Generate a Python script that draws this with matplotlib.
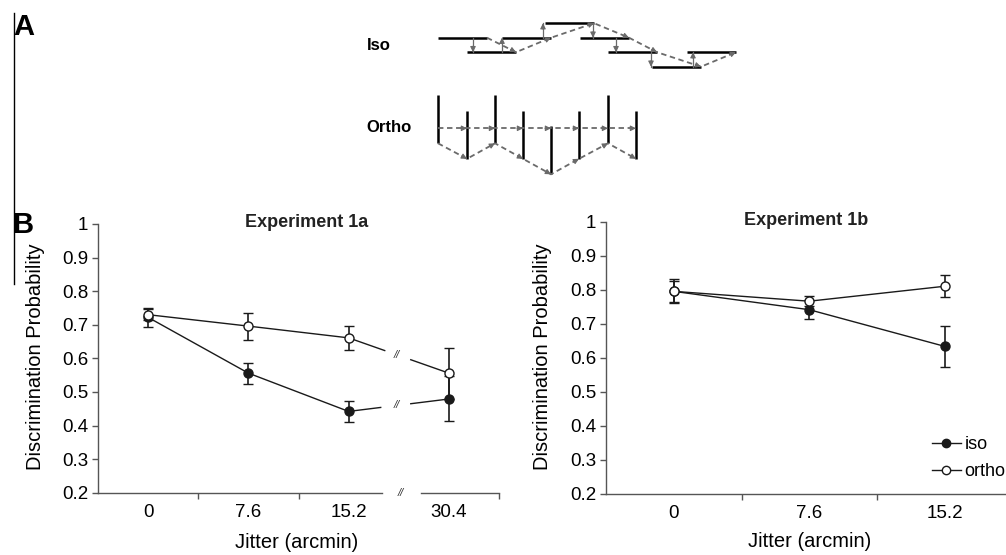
import numpy as np
import matplotlib
matplotlib.use("Agg")
import matplotlib.pyplot as plt
from matplotlib.lines import Line2D

plt.rcParams['font.family'] = ['Liberation Sans', 'DejaVu Sans']

# Experiment data (discrimination probability, mean and error)
jitter_1a = ['0', '7.6', '15.2', '30.4']
iso_1a = [0.722, 0.556, 0.442, 0.479]
iso_1a_err = [0.028, 0.031, 0.031, 0.067]
ortho_1a = [0.730, 0.696, 0.661, 0.556]
ortho_1a_err = [0.017, 0.040, 0.035, 0.076]

jitter_1b = ['0', '7.6', '15.2']
iso_1b = [0.795, 0.741, 0.633]
iso_1b_err = [0.035, 0.028, 0.060]
ortho_1b = [0.795, 0.766, 0.810]
ortho_1b_err = [0.030, 0.014, 0.032]

ytick_vals = [0.2, 0.3, 0.4, 0.5, 0.6, 0.7, 0.8, 0.9, 1.0]
ytick_labels = ['0.2', '0.3', '0.4', '0.5', '0.6', '0.7', '0.8', '0.9', '1']

# schematic in panel A (pixel-space diagram)
iso_seg_x = [438, 467, 502, 545, 580, 608, 652, 687]
iso_seg_level = [0, -1, 0, 1, 0, -1, -2, -1]
iso_step_x = [473, 502, 543, 593, 616, 651, 693]
ortho_seg_x = [438, 467, 495, 523, 551, 579, 608, 636]
ortho_seg_level = [0, -1, 0, -1, -2, -1, 0, -1]

W, H = 1006, 555
LINE = '#1a1a1a'
SPINE = '#555555'
GRAY = '#6a6a6a'


def px_rect(l, t, r, b):
    return [l / W, 1 - b / H, (r - l) / W, (b - t) / H]


fig = plt.figure(figsize=(W / 100, H / 100), dpi=100)

# ---- panel A schematic ----
sk = fig.add_axes([0, 0, 1, 1])
sk.set_xlim(0, W)
sk.set_ylim(H, 0)
sk.axis('off')


def arrow_head(x0, y0, x1, y1, color=GRAY):
    d = np.array([x1 - x0, y1 - y0], float)
    d = d / np.hypot(*d)
    sk.annotate('', xy=(x1, y1), xytext=(x1 - 6 * d[0], y1 - 6 * d[1]),
                arrowprops=dict(arrowstyle='-|>', color=color, lw=0.8,
                                mutation_scale=8, shrinkA=0, shrinkB=0))


iso_base, iso_step, seg_len = 37.7, 14.5, 49
iso_y = [iso_base - lv * iso_step for lv in iso_seg_level]
for x, y in zip(iso_seg_x, iso_y):
    sk.plot([x, x + seg_len], [y, y], color='black', lw=1.8, solid_capstyle='butt')
for i, x in enumerate(iso_step_x):
    y0, y1 = iso_y[i], iso_y[i + 1]
    sk.plot([x, x], [y0, y1], color=GRAY, lw=0.9)
    arrow_head(x, y0, x, y1)
ends_x = [x + seg_len for x in iso_seg_x]
sk.plot(ends_x, iso_y, color=GRAY, lw=1.3, ls=(0, (3, 2)))
for i in range(1, len(ends_x)):
    arrow_head(ends_x[i - 1], iso_y[i - 1], ends_x[i], iso_y[i])

ortho_base, ortho_step, vlen = 143.3, 15.5, 48
ortho_bot = [ortho_base - lv * ortho_step for lv in ortho_seg_level]
for x, yb in zip(ortho_seg_x, ortho_bot):
    sk.plot([x, x], [yb - vlen, yb], color='black', lw=1.8, solid_capstyle='butt')
mid_y = 128.3
sk.plot([ortho_seg_x[0], ortho_seg_x[-1]], [mid_y, mid_y], color=GRAY, lw=1.3, ls=(0, (3, 2)))
for x in ortho_seg_x[1:]:
    arrow_head(x - 10, mid_y, x, mid_y)
sk.plot(ortho_seg_x, ortho_bot, color=GRAY, lw=1.3, ls=(0, (3, 2)))
for i in range(1, len(ortho_seg_x)):
    arrow_head(ortho_seg_x[i - 1], ortho_bot[i - 1], ortho_seg_x[i], ortho_bot[i])

sk.text(367, 45, 'Iso', fontsize=12, fontweight='bold', ha='left', va='center')
sk.text(366, 128, 'Ortho', fontsize=12, fontweight='bold', ha='left', va='center')
sk.text(13, 35, 'A', fontsize=21, fontweight='bold', ha='left', va='baseline')
sk.text(13, 233, 'B', fontsize=21, fontweight='bold', ha='left', va='baseline')
sk.plot([14, 14], [13, 284], color='black', lw=1.0)


def style_axis(ax, n):
    ax.set_ylim(0.2, 1.0)
    ax.set_xlim(-0.5, n - 0.5)
    ax.set_yticks(ytick_vals, ytick_labels)
    ax.spines['top'].set_visible(False)
    ax.spines['right'].set_visible(False)
    for s in ('left', 'bottom'):
        ax.spines[s].set_color(SPINE)
        ax.spines[s].set_linewidth(1.0)
    ax.tick_params(axis='y', direction='out', length=4, width=1, color=SPINE,
                   labelsize=13.5, pad=3)
    ax.tick_params(axis='x', which='major', length=0, labelsize=13.5, pad=8)
    ax.tick_params(axis='x', which='minor', direction='out', length=4, width=1, color=SPINE)


def draw_series(ax, vals, errs, filled, upto):
    x = np.arange(len(vals))
    ax.plot(x[:upto], vals[:upto], color=LINE, lw=1.0, zorder=2)
    ax.errorbar(x, vals, yerr=errs, fmt='o', ms=6.5, color=LINE, mfc=LINE if filled else 'white',
                mec=LINE, mew=1.0, ecolor=LINE, elinewidth=1.2, capsize=3.5, capthick=1.2,
                zorder=3)


# ---- Experiment 1a ----
ax1 = fig.add_axes(px_rect(98, 224, 499, 492.7))
style_axis(ax1, len(jitter_1a))
ax1.set_xticks(np.arange(len(jitter_1a)), jitter_1a)
ax1.set_xticks([0.5, 1.5, 3.5], minor=True)
ax1.spines['bottom'].set_visible(False)
for xa, xb in [(-0.5, 2.33), (2.72, 3.5)]:
    ax1.plot([xa, xb], [0.2, 0.2], color=SPINE, lw=1.0, clip_on=False, zorder=1)
ax1.text(2.52, 0.2, '//', fontsize=8, style='italic', color='#333333', ha='center', va='center')

for vals, errs, filled, cut in [(iso_1a, iso_1a_err, True, 2.32), (ortho_1a, ortho_1a_err, False, 2.36)]:
    draw_series(ax1, vals, errs, filled, 3)
    xs = [2, 3]
    ys = [vals[2], vals[3]]
    ax1.plot([2, cut], [vals[2], np.interp(cut, xs, ys)], color=LINE, lw=1.0)
    ax1.plot([2.62, 3], [np.interp(2.62, xs, ys), vals[3]], color=LINE, lw=1.0)
    ax1.text(2.48, np.interp(2.48, xs, ys), '//', fontsize=8, style='italic', color='#333333',
             ha='center', va='center')

ax1.set_ylabel('Discrimination Probability', fontsize=14.5, va='center')
ax1.yaxis.set_label_coords(-0.157, 0.505)
ax1.set_xlabel('Jitter (arcmin)', fontsize=14.5, va='center')
ax1.xaxis.set_label_coords(0.496, -0.187)
ax1.text(0.521, 1.007, 'Experiment 1a', transform=ax1.transAxes, fontsize=13,
         fontweight='bold', color='#222222', ha='center', va='center')

# ---- Experiment 1b ----
ax2 = fig.add_axes(px_rect(606, 221.7, 1012.5, 493.5))
style_axis(ax2, len(jitter_1b))
ax2.set_xticks(np.arange(len(jitter_1b)), jitter_1b)
ax2.set_xticks([0.5, 1.5, 2.5], minor=True)
draw_series(ax2, iso_1b, iso_1b_err, True, 3)
draw_series(ax2, ortho_1b, ortho_1b_err, False, 3)
ax2.set_ylabel('Discrimination Probability', fontsize=14.5, va='center')
ax2.yaxis.set_label_coords(-0.155, 0.505)
ax2.set_xlabel('Jitter (arcmin)', fontsize=14.5, va='center')
ax2.xaxis.set_label_coords(0.502, -0.177)
ax2.text(0.492, 1.006, 'Experiment 1b', transform=ax2.transAxes, fontsize=13,
         fontweight='bold', color='#222222', ha='center', va='center')

handles = [Line2D([], [], color=LINE, lw=1.0, marker='o', ms=6, mfc=LINE, mec=LINE),
           Line2D([], [], color=LINE, lw=1.0, marker='o', ms=6, mfc='white', mec=LINE)]
fig.legend(handles, ['iso', 'ortho'], loc='center left',
           bbox_to_anchor=(932 / W, 1 - 458 / H), frameon=False, fontsize=13,
           handlelength=1.6, handletextpad=0.2, labelspacing=0.55,
           borderpad=0, borderaxespad=0)

fig.savefig('out.png', dpi=100)
